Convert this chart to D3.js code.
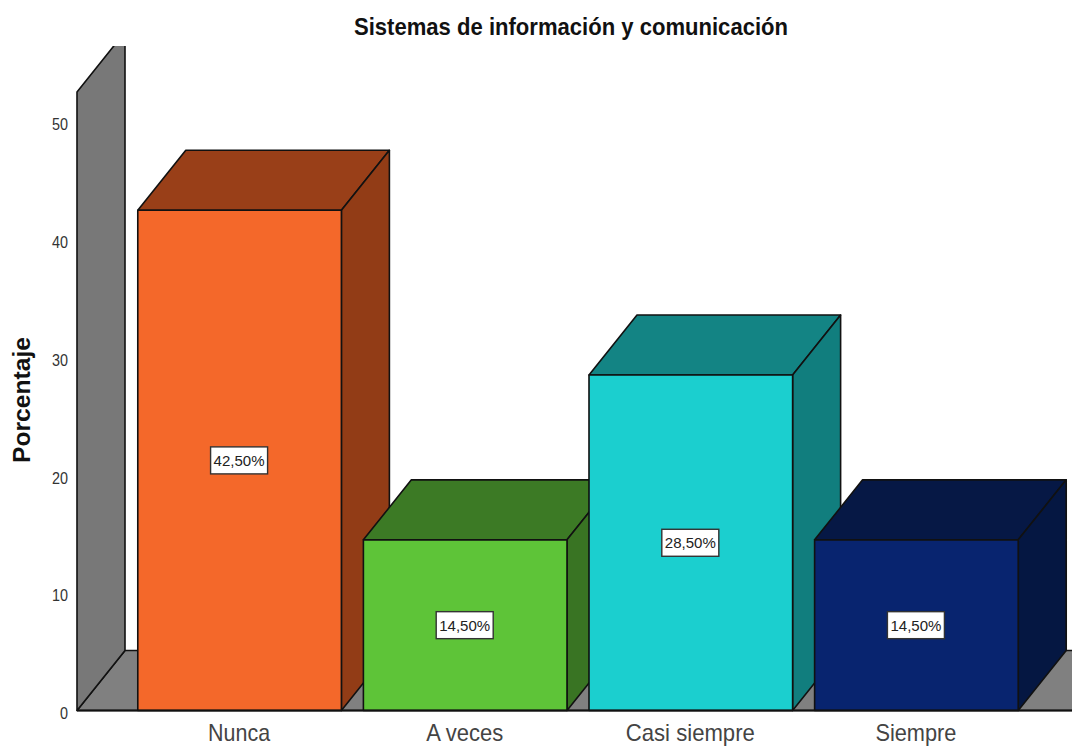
<!DOCTYPE html>
<html><head><meta charset="utf-8">
<script src="https://cdn.jsdelivr.net/npm/d3@7/dist/d3.min.js"></script>
<style>html,body{margin:0;padding:0;background:#fff}svg{display:block}text{font-family:"Liberation Sans",Arial,sans-serif}</style>
</head><body><div id="chart"></div>
<script>
const categories = ["Nunca","A veces","Casi siempre","Siempre"];
const values = [42.5,14.5,28.5,14.5];
const labels = ["42,50%","14,50%","28,50%","14,50%"];
const frontColors = ["#f4682a","#5ec438","#1bcfcf","#08246f"];
const topColors = ["#993f18","#3c7a25","#138484","#061845"];
const sideColors = ["#923c16","#397423","#117e7e","#051742"];
const yTicks = [0,10,20,30,40,50];
const titleText = "Sistemas de información y comunicación";
const yTitle = "Porcentaje";

const W=1072,H=747, depthX=48, depthY=60;
const svg=d3.select("#chart").append("svg").attr("width",W).attr("height",H);
const y=d3.scaleLinear().domain([0,52.55]).range([710.5,92]);
const x=d3.scaleBand().domain(categories).range([126.5,1029.5]).paddingInner(0.0975).paddingOuter(0.05);
const lineColor="#111";
const poly=(pts,fill,g=svg)=>g.append("polygon").attr("points",pts.map(p=>p.join(",")).join(" ")).attr("fill",fill).attr("stroke",lineColor).attr("stroke-width",1.6).attr("stroke-linejoin","round");

svg.append("defs").append("clipPath").attr("id","plot").append("rect").attr("x",0).attr("y",46).attr("width",W).attr("height",H-46);
const frame=svg.append("g").attr("clip-path","url(#plot)");
const xLeft=77,yBottom=y(0),yTop=y(52.55);
poly([[xLeft,yBottom],[xLeft+depthX,yBottom-depthY],[W+20,yBottom-depthY],[W+20,yBottom]],"#808080",frame);
poly([[xLeft,yBottom],[xLeft,yTop],[xLeft+depthX,yTop-depthY],[xLeft+depthX,yBottom-depthY]],"#787878",frame);

const bars=svg.selectAll("g.bar").data(categories).join("g").attr("class","bar");
bars.each(function(c,i){
  const g=d3.select(this),x0=x(c),x1=x0+x.bandwidth(),yt=y(values[i]),yb=y(0);
  poly([[x0,yt],[x0+depthX,yt-depthY],[x1+depthX,yt-depthY],[x1,yt]],topColors[i],g);
  poly([[x1,yt],[x1+depthX,yt-depthY],[x1+depthX,yb-depthY],[x1,yb]],sideColors[i],g);
  poly([[x0,yt],[x1,yt],[x1,yb],[x0,yb]],frontColors[i],g);
  const cx=(x0+x1)/2-0.5, cy=(yt+yb)/2;
  g.append("rect").attr("x",cx-28.5).attr("y",cy-13.5).attr("width",57).attr("height",27).attr("fill","#fff").attr("stroke","#333").attr("stroke-width",1.4);
  g.append("text").attr("x",cx).attr("y",cy+5.5).attr("text-anchor","middle").attr("font-size",15.5).attr("fill","#222").attr("textLength",51).attr("lengthAdjust","spacingAndGlyphs").text(labels[i]);
});
svg.append("line").attr("x1",xLeft).attr("x2",W).attr("y1",yBottom).attr("y2",yBottom).attr("stroke",lineColor).attr("stroke-width",1.8);

const yAxis=d3.axisLeft(y).tickValues(yTicks).tickSize(0).tickPadding(9);
const ya=svg.append("g").attr("transform",`translate(${xLeft},0)`).call(yAxis);
ya.select(".domain").remove();
ya.selectAll("text").attr("font-size",16.5).attr("fill","#333").attr("y",2.7).style("font-family",'"Liberation Sans",Arial,sans-serif').attr("textLength",d=>d===0?8:16).attr("lengthAdjust","spacingAndGlyphs");

const xAxis=d3.axisBottom(x).tickSize(0).tickPadding(13);
const xa=svg.append("g").attr("transform",`translate(0,${yBottom})`).call(xAxis);
xa.select(".domain").remove();
xa.selectAll("text").attr("font-size",24).attr("fill","#444").attr("y",13.5).style("font-family",'"Liberation Sans",Arial,sans-serif').attr("textLength",d=>({"Nunca":62,"A veces":77,"Casi siempre":129,"Siempre":81})[d]).attr("lengthAdjust","spacingAndGlyphs").attr("dx",-0.5);

svg.append("text").attr("x",571).attr("y",35).attr("text-anchor","middle").attr("font-size",24).attr("font-weight","bold").attr("fill","#111").attr("textLength",434).attr("lengthAdjust","spacingAndGlyphs").text(titleText);
svg.append("text").attr("transform","translate(30,400) rotate(-90)").attr("text-anchor","middle").attr("font-size",23.5).attr("font-weight","bold").attr("fill","#111").attr("textLength",126).attr("lengthAdjust","spacingAndGlyphs").text(yTitle);
</script></body></html>
